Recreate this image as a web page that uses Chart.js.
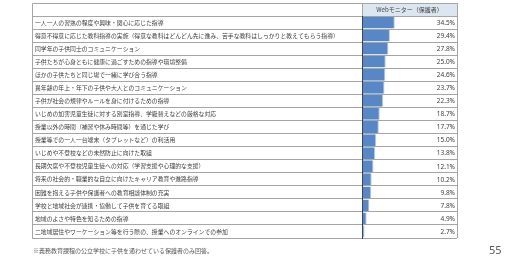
<!DOCTYPE html>
<html lang="ja">
<head>
<meta charset="utf-8">
<script src="https://cdn.jsdelivr.net/npm/chart.js@4"></script>
<style>
  html, body { margin: 0; padding: 0; background: #fff; }
  #wrap { position: relative; width: 510px; height: 258px; }
  .note { position: absolute; left: 33px; top: 246px; font: 6px "Noto Sans CJK JP"; color: #595959; white-space: nowrap; }
  .page { position: absolute; left: 489px; top: 242px; font: 11px "Noto Sans"; color: #595959; }
</style>
</head>
<body>
<div id="wrap">
  <canvas id="chart" width="510" height="258"></canvas>
  <div class="note">※義務教育課程の公立学校に子供を通わせている保護者のみ回答。</div>
  <div class="page">55</div>
</div>
<script>
// 項目（上から順）
const items = [
  "一人一人の習熟の程度や興味・関心に応じた指導",
  "得意不得意に応じた教科指導の実施（得意な教科はどんどん先に進み、苦手な教科はしっかりと教えてもらう指導）",
  "同学年の子供同士のコミュニケーション",
  "子供たちが心身ともに健康に過ごすための指導や環境整備",
  "ほかの子供たちと同じ場で一緒に学び合う指導",
  "異年齢の年上・年下の子供や大人とのコミュニケーション",
  "子供が社会の規律やルールを身に付けるための指導",
  "いじめの加害児童生徒に対する別室指導、学級替えなどの厳格な対応",
  "授業以外の時間（補習や休み時間等）を通じた学び",
  "授業等での一人一台端末（タブレットなど）の利活用",
  "いじめや不登校などの未然防止に向けた取組",
  "長期欠席や不登校児童生徒への対応（学習支援や心理的な支援）",
  "将来の社会的・職業的な自立に向けたキャリア教育や進路指導",
  "困難を抱える子供や保護者への教育相談体制の充実",
  "学校と地域社会が連携・協働して子供を育てる取組",
  "地域のよさや特色を知るための指導",
  "二地域居住やワーケーション等を行う際の、授業へのオンラインでの参加"
];

// Webモニター（保護者） %
const webMonitor = [34.5, 29.4, 27.8, 25.0, 24.6, 23.7, 22.3, 18.7, 17.7, 15.0, 13.8, 12.1, 10.2, 9.8, 7.8, 4.9, 2.7];

const seriesName = "Webモニター（保護者）";
const xTicks = [0, 100];

const gridGray = "#a6a6a6";

// 表の外枠
const tableFrame = {
  id: "tableFrame",
  afterDraw(chart) {
    const { ctx, chartArea, scales } = chart;
    const left = chartArea.left - scales.y.options.grid.tickLength;
    const top = scales.x.top;
    ctx.save();
    ctx.strokeStyle = gridGray;
    ctx.lineWidth = 1;
    ctx.beginPath();
    ctx.moveTo(Math.round(left) + 0.5, chartArea.bottom);
    ctx.lineTo(Math.round(left) + 0.5, Math.round(top) + 0.5);
    ctx.lineTo(chartArea.right, Math.round(top) + 0.5);
    ctx.stroke();
    ctx.restore();
  }
};

// 右端の数値
const valueLabels = {
  id: "valueLabels",
  afterDatasetsDraw(chart) {
    const { ctx, chartArea } = chart;
    const meta = chart.getDatasetMeta(0);
    ctx.save();
    ctx.font = '6.5px "Noto Sans"';
    ctx.fillStyle = "#404040";
    ctx.textAlign = "right";
    ctx.textBaseline = "middle";
    meta.data.forEach((bar, i) => {
      ctx.fillText(webMonitor[i].toFixed(1) + "%", chartArea.right - 2, bar.y + 0.5);
    });
    ctx.restore();
  }
};

new Chart(document.getElementById("chart"), {
  type: "bar",
  data: {
    labels: items,
    datasets: [{
      label: seriesName,
      data: webMonitor,
      backgroundColor: "#5887c6",
      borderColor: "#b4c8e4",
      borderWidth: { right: 1, top: 0, bottom: 0, left: 0 },
      borderSkipped: "start",
      barPercentage: 0.9,
      categoryPercentage: 1
    }]
  },
  options: {
    indexAxis: "y",
    responsive: false,
    animation: false,
    devicePixelRatio: 1,
    layout: { padding: { left: 35, right: 53, top: 3, bottom: 20 } },
    plugins: {
      legend: { display: false },
      tooltip: { enabled: false }
    },
    scales: {
      x: {
        position: "top",
        min: xTicks[0],
        max: xTicks[1],
        afterBuildTicks: s => { s.ticks = xTicks.map(v => ({ value: v })); },
        afterFit: s => { s.height = 13; },
        backgroundColor: "#dce6f1",
        ticks: { display: false },
        grid: { color: gridGray, tickLength: 13 },
        border: { display: false },
        title: {
          display: true,
          text: seriesName,
          color: "#404040",
          font: { family: "Noto Sans CJK JP", size: 6 },
          padding: { top: 3, bottom: 0 }
        }
      },
      y: {
        afterFit: s => { s.width = 327; },
        ticks: {
          autoSkip: false,
          crossAlign: "far",
          color: "#404040",
          font: { family: "Noto Sans CJK JP", size: 5.85 }
        },
        grid: { color: gridGray, tickLength: 330, offset: true },
        border: { display: true, color: "#333333", width: 1 }
      }
    }
  },
  plugins: [tableFrame, valueLabels]
});
</script>
</body>
</html>
